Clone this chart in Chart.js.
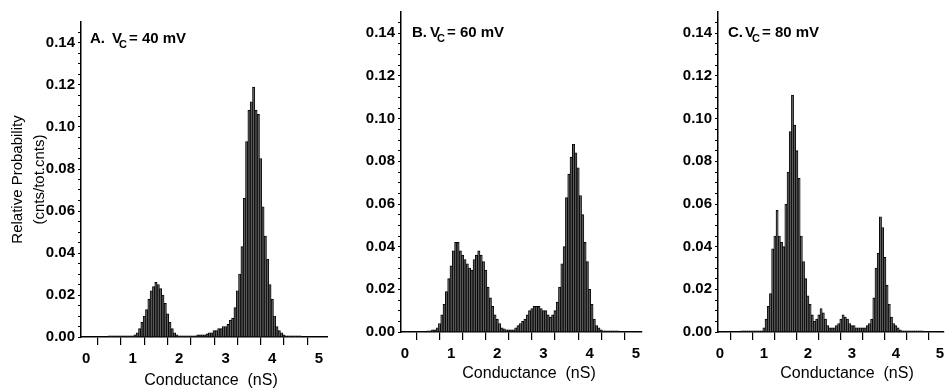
<!DOCTYPE html>
<html>
<head>
  <title>Conductance histograms</title>
  <style>
    body { margin: 0; background: #fff; }
    #wrap { position: relative; width: 949px; height: 390px; overflow: hidden; background: #fff; }
    canvas { position: absolute; top: 0; }
  </style>
</head>
<body>
<div id="wrap">
  <canvas id="chartA" width="328" height="390" style="left:0px"></canvas>
  <canvas id="chartB" width="325" height="390" style="left:320px"></canvas>
  <canvas id="chartC" width="304" height="390" style="left:645px"></canvas>
</div>

<script src="https://cdn.jsdelivr.net/npm/chart.js"></script>
<script>
  // histogram bins (nS)
  const binCenters = [
    0.50, 0.55, 0.60, 0.65, 0.70, 0.75, 0.80, 0.85, 0.90, 0.95,
    1.00, 1.05, 1.10, 1.15, 1.20, 1.25, 1.30, 1.35, 1.40, 1.45,
    1.50, 1.55, 1.60, 1.65, 1.70, 1.75, 1.80, 1.85, 1.90, 1.95,
    2.00, 2.05, 2.10, 2.15, 2.20, 2.25, 2.30, 2.35, 2.40, 2.45,
    2.50, 2.55, 2.60, 2.65, 2.70, 2.75, 2.80, 2.85, 2.90, 2.95,
    3.00, 3.05, 3.10, 3.15, 3.20, 3.25, 3.30, 3.35, 3.40, 3.45,
    3.50, 3.55, 3.60, 3.65, 3.70, 3.75, 3.80, 3.85, 3.90, 3.95,
    4.00, 4.05, 4.10, 4.15, 4.20, 4.25, 4.30, 4.35, 4.40, 4.45,
    4.50, 4.55, 4.60
  ];

  // A. Vc = 40 mV
  const probA = [
    0.0005, 0.0005, 0.0005, 0.0005, 0.0005, 0.0005, 0.0005, 0.0005, 0.0005, 0.0005,
    0.0005, 0.001, 0.002, 0.004, 0.007, 0.010, 0.013, 0.018, 0.022, 0.024,
    0.026, 0.025, 0.023, 0.020, 0.016, 0.011, 0.007, 0.004, 0.002, 0.001,
    0.0005, 0.0005, 0.0005, 0.0005, 0.0005, 0.0005, 0.0005, 0.0005, 0.001, 0.001,
    0.001, 0.001, 0.0015, 0.002, 0.002, 0.003, 0.003, 0.004, 0.004, 0.005,
    0.005, 0.006, 0.008, 0.009, 0.014, 0.022, 0.030, 0.043, 0.066, 0.093,
    0.108, 0.112, 0.119, 0.108, 0.106, 0.085, 0.062, 0.048, 0.037, 0.025,
    0.018, 0.010, 0.005, 0.003, 0.002, 0.001, 0.0005, 0.0005, 0.0005, 0.0005,
    0.0005, 0.0005, 0.0005
  ];

  // B. Vc = 60 mV
  const probB = [
    0.0005, 0.0005, 0.001, 0.001, 0.002, 0.004, 0.008, 0.013, 0.019, 0.025,
    0.031, 0.038, 0.042, 0.042, 0.038, 0.036, 0.034, 0.032, 0.030, 0.029,
    0.034, 0.036, 0.038, 0.036, 0.033, 0.029, 0.021, 0.016, 0.012, 0.008,
    0.006, 0.004, 0.002, 0.0015, 0.001, 0.001, 0.001, 0.001, 0.002, 0.003,
    0.004, 0.005, 0.006, 0.008, 0.010, 0.011, 0.012, 0.012, 0.012, 0.011,
    0.010, 0.010, 0.008, 0.007, 0.008, 0.010, 0.014, 0.021, 0.032, 0.040,
    0.063, 0.074, 0.082, 0.088, 0.084, 0.077, 0.064, 0.055, 0.042, 0.033,
    0.020, 0.013, 0.006, 0.003, 0.002, 0.001, 0.0005, 0.0005, 0.0005, 0.0005,
    0.0005, 0.0005, 0.0005
  ];

  // C. Vc = 80 mV
  const probC = [
    0.0005, 0.0005, 0.0005, 0.0005, 0.0005, 0.0005, 0.0005, 0.0005, 0.0005, 0.0005,
    0.002, 0.006, 0.012, 0.018, 0.039, 0.045, 0.057, 0.045, 0.042, 0.040,
    0.060, 0.075, 0.094, 0.111, 0.097, 0.085, 0.072, 0.045, 0.033, 0.025,
    0.017, 0.013, 0.008, 0.005, 0.006, 0.008, 0.011, 0.009, 0.006, 0.003,
    0.002, 0.002, 0.002, 0.003, 0.004, 0.006, 0.008, 0.007, 0.006, 0.004,
    0.003, 0.003, 0.002, 0.002, 0.002, 0.002, 0.002, 0.003, 0.004, 0.006,
    0.016, 0.030, 0.037, 0.054, 0.049, 0.035, 0.022, 0.013, 0.007, 0.004,
    0.003, 0.002, 0.001, 0.0005, 0.0005, 0.0005, 0.0005, 0.0005, 0.0005, 0.0005,
    0.0005, 0.0005, 0.0005
  ];

  const xTicks = [0, 0.5, 1, 1.5, 2, 2.5, 3, 3.5, 4, 4.5, 5];
  const yTickLabels = [0, 0.02, 0.04, 0.06, 0.08, 0.10, 0.12, 0.14];
  const panelNames = ['A.', 'B.', 'C.'];
  const voltages = ['= 40 mV', '= 60 mV', '= 80 mV'];
  const xTitle = 'Conductance  (nS)';
  const yTitle = ['Relative Probability', '(cnts/tot.cnts)'];

  const FONT = "'Liberation Sans', Arial, Helvetica, sans-serif";

  // panel label "A.  V_C = 40 mV" and the x axis title
  const panelText = {
    id: 'panelText',
    afterDraw(chart, args, opts) {
      const ctx = chart.ctx;
      const a = chart.chartArea;
      ctx.save();
      ctx.fillStyle = '#000';
      ctx.textAlign = 'left';
      ctx.textBaseline = 'alphabetic';
      ctx.font = 'bold 15px ' + FONT;
      let x = a.left + opts.dx;
      const y = a.top + opts.dy;
      ctx.fillText(opts.name, x, y);
      x += ctx.measureText(opts.name).width + opts.gap;
      ctx.fillText('V', x, y);
      x += ctx.measureText('V').width - 3;
      ctx.font = 'bold 11px ' + FONT;
      ctx.fillText('C', x, y + 5);
      x += ctx.measureText('C').width + 2;
      ctx.font = 'bold 15px ' + FONT;
      ctx.fillText(opts.volt, x, y);

      ctx.font = '16px ' + FONT;
      ctx.textAlign = 'center';
      ctx.textBaseline = 'middle';
      ctx.fillText(xTitle, opts.titleX, opts.titleY);
      ctx.restore();
    }
  };

  function makeChart(id, values, opt) {
    new Chart(document.getElementById(id), {
      type: 'bar',
      data: {
        datasets: [{
          data: binCenters.map((x, i) => ({ x: x, y: values[i] })),
          backgroundColor: '#5e5e5e',
          borderColor: '#000',
          borderWidth: 0.9,
          barPercentage: 1,
          categoryPercentage: 1,
          grouped: false
        }]
      },
      options: {
        responsive: false,
        animation: false,
        devicePixelRatio: 1,
        layout: { padding: { left: 0, right: 0, top: opt.top, bottom: 0 } },
        plugins: {
          legend: { display: false },
          tooltip: { enabled: false },
          panelText: opt.text
        },
        scales: {
          x: {
            type: 'linear',
            min: opt.xMin,
            max: opt.xMax,
            offset: false,
            afterFit: s => { s.height = opt.xHeight; },
            afterBuildTicks: s => { s.ticks = xTicks.map(v => ({ value: v })); },
            ticks: {
              autoSkip: false, maxRotation: 0, padding: 5, color: '#000',
              font: { family: FONT, size: 15, weight: 'bold' },
              callback: v => Number.isInteger(v) ? String(v) : ''
            },
            grid: { drawOnChartArea: false, drawTicks: true, tickLength: 8, color: '#000', lineWidth: 1.2 },
            border: { display: true, color: '#000', width: 1.5 }
          },
          y: {
            min: 0,
            max: 0.15,
            afterFit: s => { s.width = opt.yWidth; },
            afterBuildTicks: s => {
              const t = [];
              for (let k = 0; k <= 29; k++) t.push({ value: k * 0.005 });
              s.ticks = t;
            },
            ticks: {
              autoSkip: false, padding: 3, color: '#000',
              font: { family: FONT, size: 15, weight: 'bold' },
              callback: v => yTickLabels.some(t => Math.abs(t - v) < 1e-9) ? v.toFixed(2) : ''
            },
            grid: { drawOnChartArea: false, drawTicks: true, tickLength: 3, color: '#000', lineWidth: 1 },
            border: { display: true, color: '#000', width: 1.5 },
            title: {
              display: opt.showYTitle,
              text: yTitle,
              color: '#000',
              font: { family: FONT, size: 15, lineHeight: 1.4667 },
              padding: { top: 7, bottom: 0 }
            }
          }
        }
      },
      plugins: [panelText]
    });
  }

  makeChart('chartA', probA, {
    top: 22, xHeight: 53, yWidth: 81, xMin: -0.11, xMax: 5.19, showYTitle: true,
    text: { name: panelNames[0], volt: voltages[0], dx: 9, dy: 21, gap: 7, titleX: 211, titleY: 381 }
  });
  makeChart('chartB', probB, {
    top: 12, xHeight: 58, yWidth: 81, xMin: -0.085, xMax: 5.13, showYTitle: false,
    text: { name: panelNames[1], volt: voltages[1], dx: 11, dy: 25, gap: 3, titleX: 209, titleY: 374 }
  });
  makeChart('chartC', probC, {
    top: 12, xHeight: 58, yWidth: 73, xMin: -0.044, xMax: 5.09, showYTitle: false,
    text: { name: panelNames[2], volt: voltages[2], dx: 10, dy: 25, gap: 2, titleX: 202, titleY: 374 }
  });
</script>
</body>
</html>
